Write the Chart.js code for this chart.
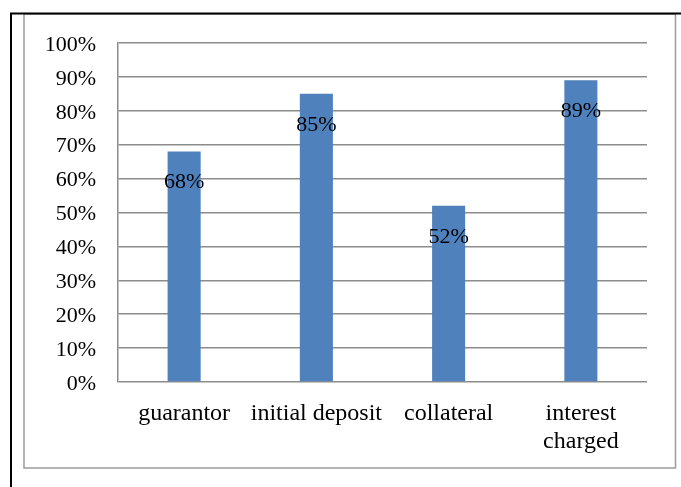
<!DOCTYPE html>
<html>
<head>
<meta charset="utf-8">
<script src="https://cdn.jsdelivr.net/npm/chart.js@4.4.1/dist/chart.umd.min.js"></script>
<style>
  html, body { margin: 0; padding: 0; background: #fff; }
  #wrap { width: 681px; height: 487px; position: relative; }
</style>
</head>
<body>
<div id="wrap"><canvas id="c" width="681" height="487"></canvas></div>
<script>
const categories = ['guarantor', 'initial deposit', 'collateral', ['interest', 'charged']];
const shares = [68, 85, 52, 89];
const tickValues = [0, 10, 20, 30, 40, 50, 60, 70, 80, 90, 100];

const serif = "'Liberation Serif', 'Times New Roman', serif";

// page frame: black cell edges and the grey chart border
const framePlugin = {
  id: 'frame',
  beforeDraw(chart) {
    const ctx = chart.ctx;
    ctx.save();
    ctx.fillStyle = '#fff';
    ctx.fillRect(0, 0, chart.width, chart.height);
    ctx.strokeStyle = '#9a9a9a';
    ctx.lineWidth = 1.5;
    ctx.strokeRect(24, 14, 651.5, 454);
    ctx.strokeStyle = '#000';
    ctx.lineWidth = 2;
    ctx.beginPath();
    ctx.moveTo(10, 13.5);
    ctx.lineTo(681, 13.5);
    ctx.moveTo(11, 13);
    ctx.lineTo(11, 487);
    ctx.stroke();
    ctx.restore();
  }
};

// value labels inside the top of each bar
const valueLabels = {
  id: 'valueLabels',
  afterDatasetsDraw(chart) {
    const ctx = chart.ctx;
    const meta = chart.getDatasetMeta(0);
    ctx.save();
    ctx.font = '22px ' + serif;
    ctx.fillStyle = '#000';
    ctx.textAlign = 'center';
    ctx.textBaseline = 'middle';
    meta.data.forEach((bar, i) => {
      ctx.fillText(shares[i] + '%', bar.x, bar.y + 31);
    });
    ctx.restore();
  }
};

new Chart(document.getElementById('c'), {
  type: 'bar',
  data: {
    labels: categories,
    datasets: [{
      data: shares,
      backgroundColor: '#4F81BD',
      borderWidth: 0,
      categoryPercentage: 1,
      barPercentage: 0.25
    }]
  },
  options: {
    responsive: false,
    animation: false,
    events: [],
    layout: { padding: { top: 43, right: 34, left: 0, bottom: 0 } },
    plugins: { legend: { display: false }, tooltip: { enabled: false } },
    scales: {
      x: {
        grid: { display: false, drawTicks: false },
        border: { display: false },
        ticks: {
          color: '#000',
          font: { family: serif, size: 24, lineHeight: 1.167 },
          padding: 18,
          maxRotation: 0,
          autoSkip: false
        },
        afterFit(scale) { scale.height = 105; }
      },
      y: {
        min: 0,
        max: 100,
        afterBuildTicks(scale) { scale.ticks = tickValues.map(v => ({ value: v })); },
        grid: { color: '#8c8c8c', lineWidth: 1.5, drawTicks: false },
        border: { display: true, color: '#8c8c8c', width: 1.5 },
        ticks: {
          color: '#000',
          font: { family: serif, size: 22 },
          padding: 22,
          labelOffset: 2,
          callback: v => v + '%'
        },
        afterFit(scale) { scale.width = 118; }
      }
    }
  },
  plugins: [framePlugin, valueLabels]
});
</script>
</body>
</html>
